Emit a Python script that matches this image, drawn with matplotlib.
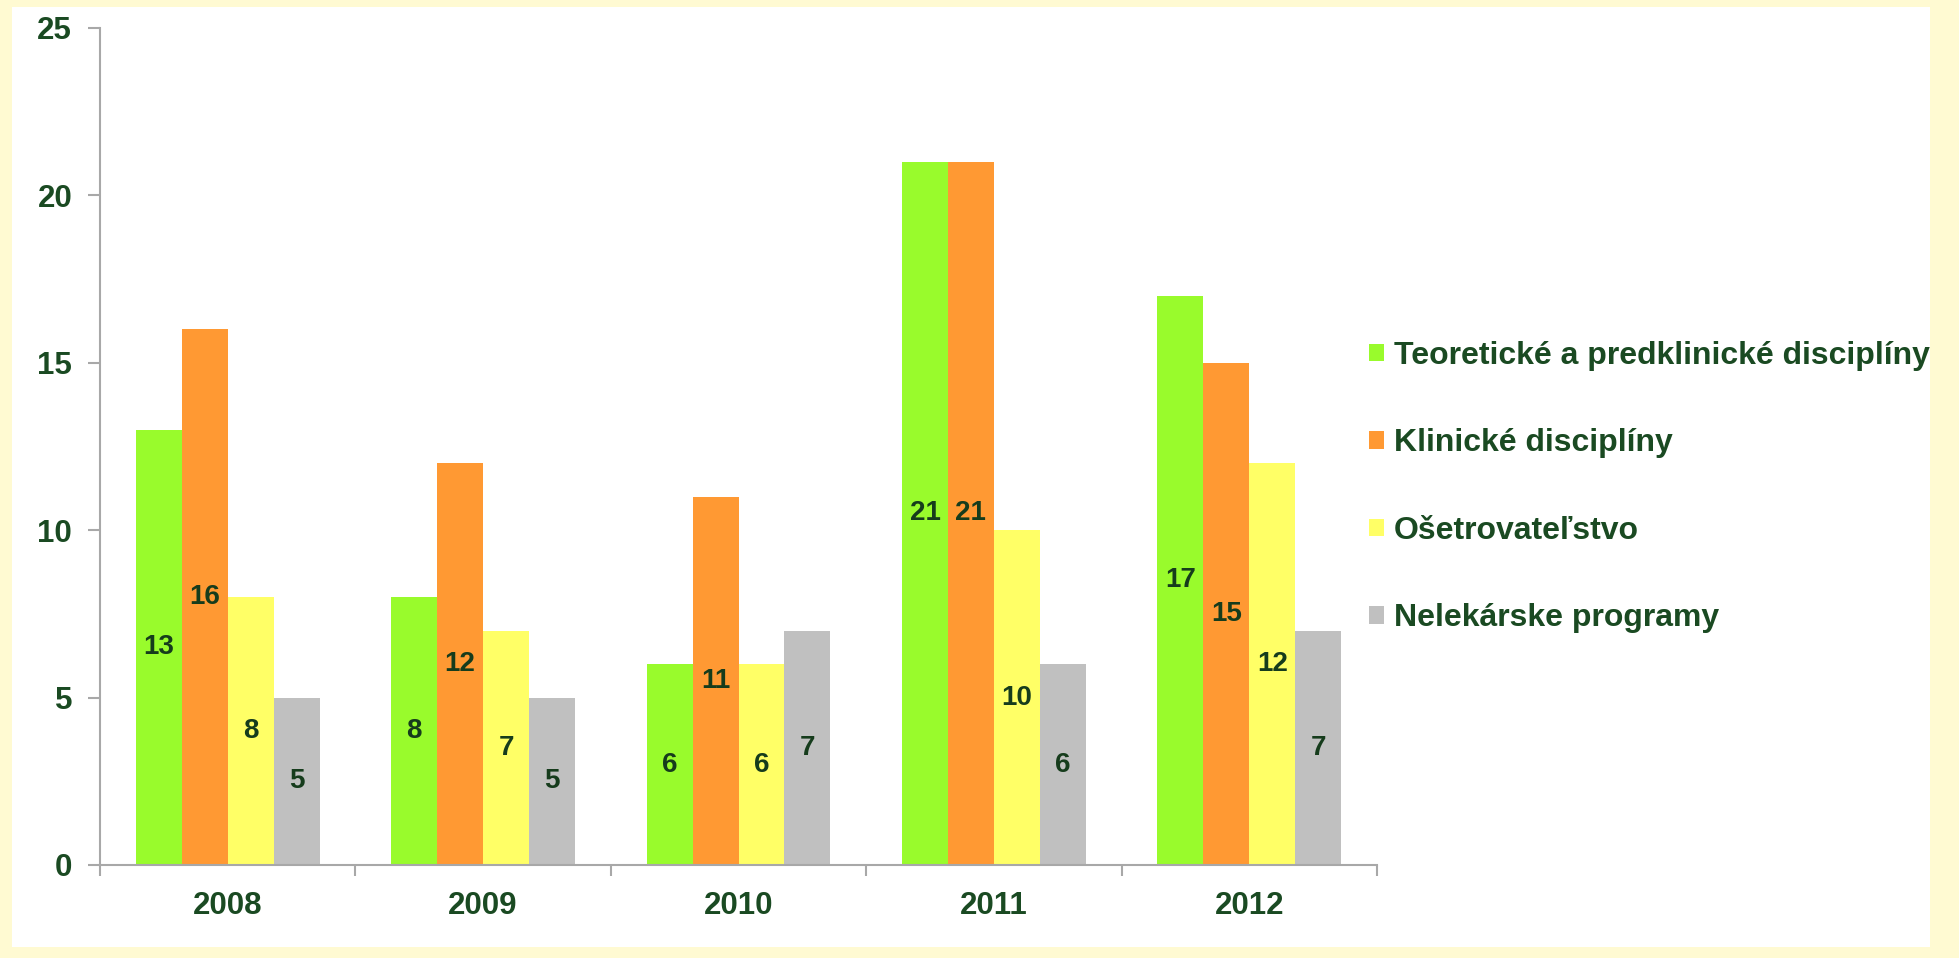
import matplotlib.pyplot as plt
import numpy as np
from matplotlib.patches import Rectangle

# data
years = ['2008', '2009', '2010', '2011', '2012']
series_names = ['Teoretické a predklinické disciplíny', 'Klinické disciplíny',
                'Ošetrovateľstvo', 'Nelekárske programy']
teoreticke = [13, 8, 6, 21, 17]
klinicke = [16, 12, 11, 21, 15]
osetrovatelstvo = [8, 7, 6, 10, 12]
nelekarske = [5, 5, 7, 6, 7]
y_ticks = [0, 5, 10, 15, 20, 25]

colors = ['#99FB2C', '#FF9933', '#FFFF66', '#C0C0C0']
text_color = '#1A4A22'
label_color = '#163C1C'

plt.rcParams['font.family'] = ['Liberation Sans', 'DejaVu Sans']
plt.rcParams['font.weight'] = 'bold'

W, H = 1959, 958
fig = plt.figure(figsize=(W / 100, H / 100), dpi=100, facecolor='#FFFAD2')

# white card behind the chart
fig.patches.append(Rectangle((12 / W, 1 - 947 / H), (1930 - 12) / W, (947 - 7) / H,
                             transform=fig.transFigure, facecolor='white',
                             edgecolor='none', zorder=-10))

ax = fig.add_axes([100 / W, 1 - 865 / H, (1377 - 100) / W, (865 - 28) / H])
ax.set_facecolor('none')

x = np.arange(len(years))
width = 0.18
all_series = [teoreticke, klinicke, osetrovatelstvo, nelekarske]
for i, (vals, name, col) in enumerate(zip(all_series, series_names, colors)):
    bars = ax.bar(x + (i - 1.5) * width, vals, width, color=col, label=name, zorder=2)
    ax.bar_label(bars, labels=[str(v) for v in vals], label_type='center',
                 fontsize=20, fontweight='bold', color=label_color)

ax.set_xlim(-0.5, len(years) - 0.5)
ax.set_ylim(0, 25)
ax.set_yticks(y_ticks)
ax.set_xticks(x)
ax.set_xticklabels(years)
ax.set_xticks(np.arange(len(years) + 1) - 0.5, minor=True)

for s in ['top', 'right']:
    ax.spines[s].set_visible(False)
for s in ['left', 'bottom']:
    ax.spines[s].set_color('#A8A8A8')
    ax.spines[s].set_linewidth(1.5)

ax.tick_params(axis='y', direction='out', length=9, width=1.5, color='#A8A8A8',
               pad=11, labelsize=22.5, labelcolor=text_color)
ax.tick_params(axis='x', which='major', length=0, pad=19, labelsize=22.5,
               labelcolor=text_color)
ax.tick_params(axis='x', which='minor', direction='out', length=8, width=1.5,
               color='#A8A8A8')
for lbl in ax.get_xticklabels() + ax.get_yticklabels():
    lbl.set_fontweight('bold')

leg = ax.legend(loc='center left', bbox_to_anchor=(1369 / W, 1 - 487 / H),
                bbox_transform=fig.transFigure, frameon=False, fontsize=23,
                handlelength=0.47, handleheight=0.47, handletextpad=0.3,
                labelspacing=1.8, borderpad=0, borderaxespad=0)
for t in leg.get_texts():
    t.set_color(text_color)
    t.set_fontweight('bold')

fig.savefig('out.png', dpi=100, facecolor=fig.get_facecolor())
